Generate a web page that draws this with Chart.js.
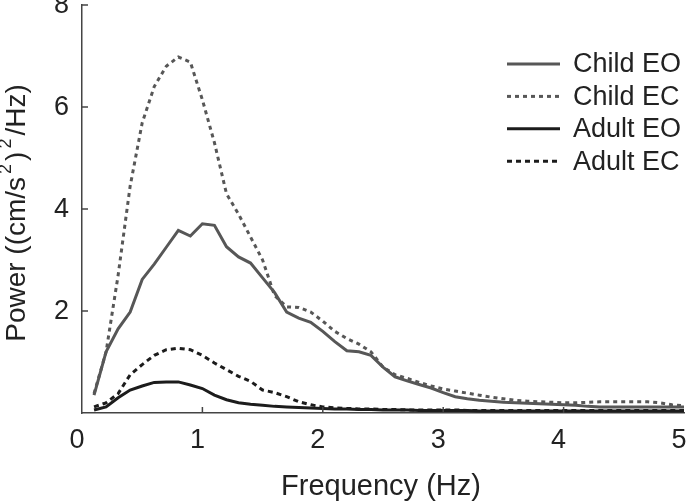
<!DOCTYPE html>
<html>
<head>
<meta charset="utf-8">
<script src="https://cdn.jsdelivr.net/npm/chart.js@4.4.1/dist/chart.umd.min.js"></script>
<style>
  html, body { margin: 0; padding: 0; background: #fff; }
  #wrap { width: 686px; height: 504px; }
</style>
</head>
<body>
<div id="wrap"><canvas id="psdChart"></canvas></div>
<script>
// frequency bins (Hz)
var freqs = [0.1, 0.2, 0.3, 0.4, 0.5, 0.6, 0.7, 0.8, 0.9, 1.0,
  1.1, 1.2, 1.3, 1.4, 1.5, 1.6, 1.7, 1.8, 1.9, 2.0,
  2.1, 2.2, 2.3, 2.4, 2.5, 2.6, 2.7, 2.8, 2.9, 3.0,
  3.1, 3.2, 3.3, 3.4, 3.5, 3.6, 3.7, 3.8, 3.9, 4.0,
  4.1, 4.2, 4.3, 4.4, 4.5, 4.6, 4.7, 4.8, 4.9, 5.0];

var childEO = [0.35, 1.2, 1.65, 1.98, 2.62, 2.92, 3.25, 3.58, 3.47, 3.71,
  3.68, 3.26, 3.06, 2.94, 2.65, 2.36, 1.98, 1.86, 1.78, 1.6,
  1.4, 1.22, 1.2, 1.13, 0.9, 0.71, 0.63, 0.56, 0.49, 0.4,
  0.32, 0.28, 0.25, 0.23, 0.21, 0.2, 0.19, 0.18, 0.17, 0.16,
  0.15, 0.13, 0.12, 0.12, 0.12, 0.12, 0.12, 0.12, 0.12, 0.12];

var childEC = [0.38, 1.2, 2.7, 4.45, 5.69, 6.4, 6.8, 6.98, 6.88, 6.14,
  5.3, 4.3, 3.9, 3.45, 3.0, 2.3, 2.08, 2.07, 1.98, 1.8,
  1.6, 1.46, 1.35, 1.2, 0.9, 0.75, 0.68, 0.6, 0.53, 0.47,
  0.43, 0.39, 0.35, 0.31, 0.28, 0.25, 0.23, 0.22, 0.21, 0.2,
  0.2, 0.21, 0.22, 0.22, 0.22, 0.22, 0.22, 0.2, 0.16, 0.14];

var adultEO = [0.06, 0.12, 0.3, 0.45, 0.53, 0.6, 0.61, 0.61, 0.55, 0.48,
  0.35, 0.26, 0.2, 0.17, 0.15, 0.13, 0.12, 0.11, 0.1, 0.09,
  0.08, 0.08, 0.07, 0.07, 0.06, 0.06, 0.06, 0.05, 0.05, 0.05,
  0.05, 0.05, 0.04, 0.04, 0.04, 0.04, 0.04, 0.04, 0.04, 0.04,
  0.04, 0.04, 0.04, 0.04, 0.04, 0.04, 0.04, 0.04, 0.04, 0.04];

var adultEC = [0.12, 0.2, 0.38, 0.75, 0.95, 1.13, 1.24, 1.27, 1.24, 1.13,
  0.98, 0.85, 0.72, 0.62, 0.45, 0.4, 0.32, 0.22, 0.16, 0.12,
  0.1, 0.09, 0.08, 0.08, 0.07, 0.07, 0.06, 0.06, 0.06, 0.06,
  0.06, 0.05, 0.05, 0.05, 0.05, 0.05, 0.05, 0.05, 0.05, 0.05,
  0.05, 0.05, 0.05, 0.05, 0.05, 0.05, 0.05, 0.05, 0.05, 0.05];

var xTicks = [0, 1, 2, 3, 4, 5];
var yTicks = [2, 4, 6, 8];

var grey = '#575757';
var black = '#1c1c1c';
var axisColor = '#444';
var textColor = '#222';
var fontFam = '"Liberation Sans", Arial, sans-serif';

function pts(vals) {
  return freqs.map(function (f, i) { return { x: f, y: vals[i] }; });
}

function series(label, vals, color, dash) {
  return {
    label: label,
    data: pts(vals),
    borderColor: color,
    backgroundColor: color,
    borderWidth: 3,
    borderDash: dash,
    pointRadius: 0,
    tension: 0,
    fill: false
  };
}

// tick labels, inward ticks, axis titles and legend drawn by hand
var decorations = {
  id: 'decorations',
  afterDraw: function (chart) {
    var c = chart.ctx;
    var xs = chart.scales.x, ys = chart.scales.y;
    var area = chart.chartArea;
    c.save();
    c.strokeStyle = axisColor;
    c.lineWidth = 1.5;
    c.fillStyle = textColor;
    c.font = '27px ' + fontFam;
    c.textAlign = 'center';
    c.textBaseline = 'middle';
    xTicks.forEach(function (t) {
      var px = xs.getPixelForValue(t);
      if (t !== 0 && t !== 5) {
        c.beginPath(); c.moveTo(px, area.bottom); c.lineTo(px, area.bottom - 6); c.stroke();
      }
      c.fillText(String(t), px - 5, 441);
    });
    c.textAlign = 'right';
    yTicks.forEach(function (t) {
      var py = ys.getPixelForValue(t);
      c.beginPath(); c.moveTo(area.left, py); c.lineTo(area.left + 6, py); c.stroke();
      c.fillText(String(t), 69, py + 1);
    });

    // x title
    c.textAlign = 'center';
    c.font = '29px ' + fontFam;
    c.fillText('Frequency (Hz)', 381, 487);

    // y title with superscripts
    var parts = [['Power ((cm/s', false], ['2', true], [')', false], ['2', true], ['/Hz)', false]];
    var big = '28px ' + fontFam, small = '18px ' + fontFam;
    var gap = 3;
    var total = 0;
    parts.forEach(function (p) { c.font = p[1] ? small : big; total += c.measureText(p[0]).width + gap; });
    total -= gap;
    c.translate(17, 213);
    c.rotate(-Math.PI / 2);
    c.textAlign = 'left';
    var cx = -total / 2;
    parts.forEach(function (p) {
      c.font = p[1] ? small : big;
      c.fillText(p[0], cx, p[1] ? -11 : 0);
      cx += c.measureText(p[0]).width + gap;
    });
    c.setTransform(1, 0, 0, 1, 0, 0);

    // legend
    var x0 = 507, x1 = 560, y0 = 64, step = 32.4;
    c.font = '27px ' + fontFam;
    c.textAlign = 'left';
    c.textBaseline = 'middle';
    chart.data.datasets.forEach(function (ds, i) {
      var y = y0 + i * step;
      c.strokeStyle = ds.borderColor;
      c.lineWidth = 3;
      c.setLineDash(ds.borderDash || []);
      c.beginPath(); c.moveTo(x0, y); c.lineTo(x1, y); c.stroke();
      c.setLineDash([]);
      c.fillStyle = textColor;
      c.fillText(ds.label, 573, y + 1);
    });
    c.restore();
  }
};

var ctx = document.getElementById('psdChart').getContext('2d');
var psdChart = new Chart(ctx, {
  type: 'line',
  data: {
    datasets: [
      series('Child EO', childEO, grey, []),
      series('Child EC', childEC, grey, [4, 4]),
      series('Adult EO', adultEO, black, []),
      series('Adult EC', adultEC, black, [5, 4])
    ]
  },
  options: {
    responsive: true,
    maintainAspectRatio: false,
    animation: false,
    layout: { padding: { top: 5, right: 2, left: 0, bottom: 0 } },
    plugins: {
      legend: { display: false },
      tooltip: { enabled: false }
    },
    scales: {
      x: {
        type: 'linear',
        min: 0,
        max: 5,
        grid: { display: false, drawTicks: false },
        border: { display: true, color: axisColor, width: 1.5 },
        ticks: { display: false },
        afterFit: function (scale) { scale.height = 91; }
      },
      y: {
        min: 0,
        max: 8,
        grid: { display: false, drawTicks: false },
        border: { display: true, color: axisColor, width: 1.5 },
        ticks: { display: false },
        afterFit: function (scale) { scale.width = 82; }
      }
    }
  },
  plugins: [decorations]
});
</script>
</body>
</html>
